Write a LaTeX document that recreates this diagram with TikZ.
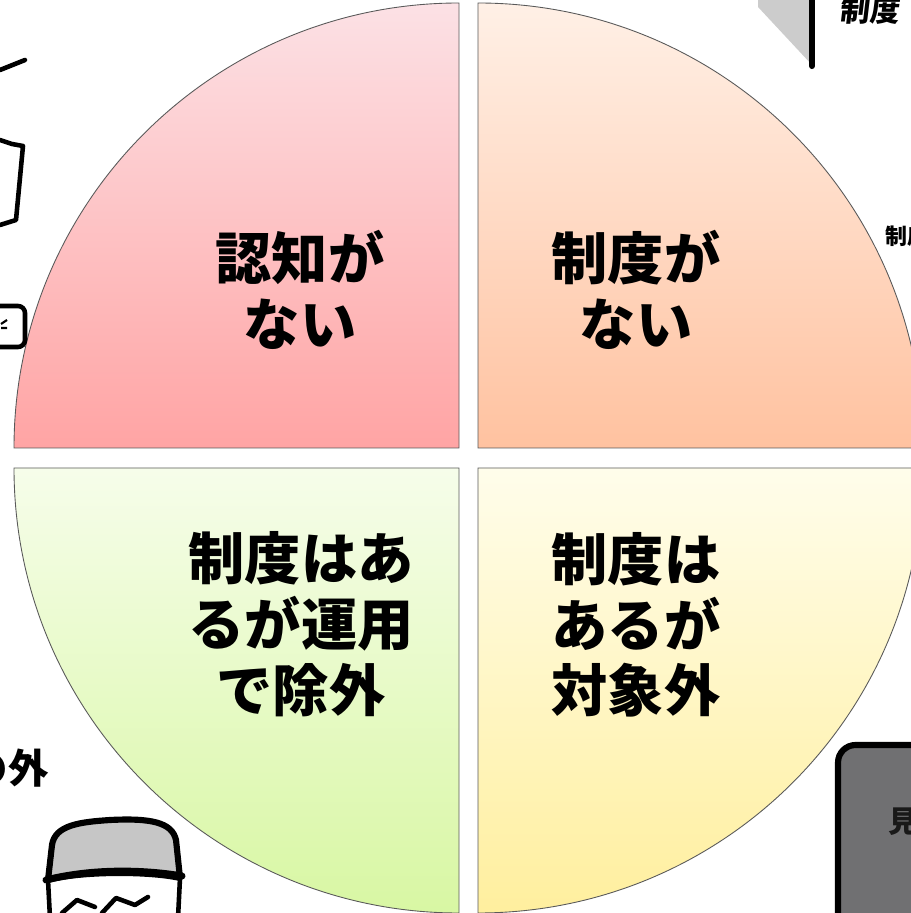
\documentclass[tikz,border=0pt]{standalone}
\usepackage{fontspec}
\newfontfamily\jp{Noto Sans CJK JP}
\usetikzlibrary{positioning}

\definecolor{pinktop}{HTML}{FCE1E5}
\definecolor{pinkbot}{HTML}{FFA4A4}
\definecolor{peachtop}{HTML}{FFF0E6}
\definecolor{peachbot}{HTML}{FFC2A0}
\definecolor{limetop}{HTML}{F6FDEA}
\definecolor{limebot}{HTML}{D8F7A3}
\definecolor{creamtop}{HTML}{FFFDEB}
\definecolor{creambot}{HTML}{FFEF9E}
\definecolor{panelgray}{RGB}{112,112,114}

\begin{document}
\begin{tikzpicture}[x=0.02cm,y=0.02cm,
    quarter/.style={draw=gray!70!black, line width=0.5pt},
    quadtext/.style={font=\jp\bfseries\fontsize{32}{37.4}\selectfont, align=center},
    ink/.style={line width=2.6pt, line join=round, line cap=round}]
    \useasboundingbox (0,0) rectangle (911,913);
    \begin{scope}
        \clip (0,0) rectangle (911,913);

        % the four quarters
        \draw[quarter, top color=pinktop, bottom color=pinkbot] (459,465) -- (14,465) arc[start angle=180, end angle=90, radius=445] -- cycle;
        \draw[quarter, top color=peachtop, bottom color=peachbot] (478,465) -- (478,910) arc[start angle=90, end angle=0, radius=445] -- cycle;
        \draw[quarter, top color=limetop, bottom color=limebot] (459,445) -- (459,0) arc[start angle=270, end angle=180, radius=445] -- cycle;
        \draw[quarter, top color=creamtop, bottom color=creambot] (478,445) -- (923,445) arc[start angle=0, end angle=-90, radius=445] -- cycle;

        \node[quadtext] (noaware) at (300,623) {認知が\\ない};
        \node[quadtext] (nosystem) at (636,623) {制度が\\ない};
        \node[quadtext] (excluded) at (301,289) {制度はあ\\るが運用\\で除外};
        \node[quadtext] (outscope) at (636,288) {制度は\\あるが\\対象外};

        % bits of the drawings around
        \draw[ink] (0,843) -- (25,853);
        \draw[ink] (0,773) -- (12,769) -- (23,767) -- (16,693) -- (0,688);
        \draw[ink, rounded corners=4] (-10,607) -- (25,607) -- (25,566) -- (-10,566);
        \draw[line width=1.2pt] (7,593) -- (1,589) (1,585) -- (7,585);

        \node[anchor=east, font=\jp\bfseries\fontsize{23}{23}\selectfont] (outside) at (55,145) {の外};

        % cap of the little man
        \draw[ink, fill=gray!45, line width=3.5pt] (48,33) -- (52,68) .. controls (55,88) and (80,91) .. (110,93)
            .. controls (150,95) and (172,91) .. (176,73) -- (180,35) .. controls (150,42) and (80,42) .. (48,33);
        \draw[ink, line width=4pt] (46,33) .. controls (90,44) and (140,44) .. (182,37);
        \draw[ink] (48,33) -- (50,-5) (180,35) -- (178,-5);
        \draw[ink] (62,0) -- (77,13) -- (95,6) (102,0) -- (116,15) -- (135,8) -- (148,16);

        % flap and words at the top right
        \fill[gray!40] (758,913) -- (758,906) -- (812,848) -- (812,913) -- cycle;
        \draw[ink, line width=3.5pt] (812,913) -- (812,847);
        \node[anchor=west, font=\jp\bfseries\fontsize{17}{17}\selectfont, xslant=0.12] (flaptext) at (835,903) {制度};
        \node[anchor=west, font=\jp\bfseries\fontsize{12.5}{12.5}\selectfont] (sidetext) at (879,677) {制度};

        % panel at the bottom right
        \draw[ink, line width=3.5pt, fill=panelgray, rounded corners=10] (838,-30) rectangle (970,168);
        \node[anchor=west, text=black!90, font=\jp\bfseries\fontsize{17}{17}\selectfont] (panelword) at (882,91) {見};
    \end{scope}
\end{tikzpicture}
\end{document}
